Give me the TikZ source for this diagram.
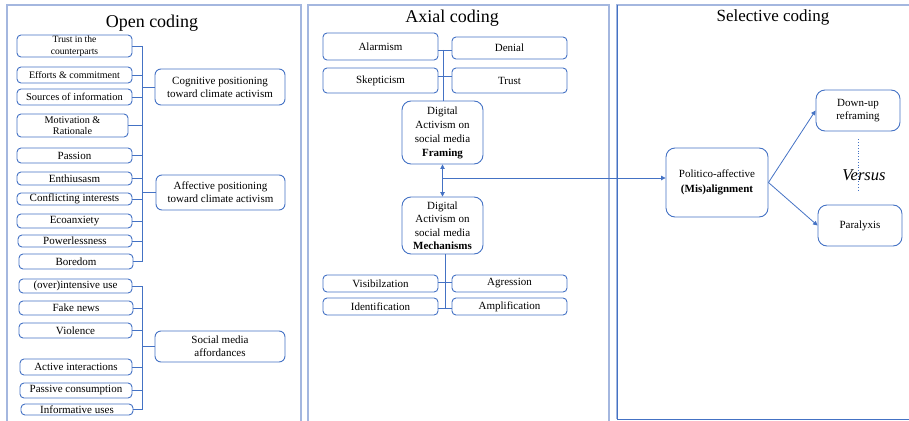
\documentclass[tikz,border=0pt]{standalone}
\usepackage{fontspec}
\setmainfont{Liberation Serif}
\usetikzlibrary{arrows.meta}
\definecolor{boxblue}{HTML}{4472C4}
\definecolor{panelblue}{HTML}{A4B7DF}
\begin{document}
\begin{tikzpicture}[x=1pt,y=-1pt,
  box/.style={draw=boxblue, line width=0.9pt, rounded corners=4pt, inner sep=0pt,
    align=center, font=\fontsize{11}{13}\selectfont},
  small/.style={font=\fontsize{10}{12}\selectfont},
  big/.style={rounded corners=9pt},
  link/.style={draw=boxblue, line width=0.8pt},
  tip/.style={-{Triangle[width=4.5pt,length=4.5pt]}},
  panel/.style={draw=panelblue, line width=1.6pt},
  title/.style={font=\fontsize{18}{20}\selectfont}]
\useasboundingbox (0,0) rectangle (909,420);

% three stages of the coding process
\draw[panel] (7,5) rectangle (301,440);
\draw[panel] (308,5) rectangle (609,440);
\draw[panel] (617,419) -- (617,5) -- (915,5);
\draw[draw=boxblue, line width=0.8pt] (617,5) -- (617,419) -- (915,419);

\node[title] (tOpen) at (152,23) {Open coding};
\node[title] (tAxial) at (452,18) {Axial coding};
\node[title, font=\fontsize{17}{19}\selectfont] (tSel) at (773,17) {Selective coding};

% ---------- Open coding ----------
\node[box, font=\fontsize{9.6}{11.5}\selectfont, minimum width=115pt, minimum height=22pt] (oTrust) at (74.5,46) {Trust in the\\counterparts};
\node[box, small, minimum width=115pt, minimum height=16pt] (oEffort) at (74.5,75) {Efforts \& commitment};
\node[box, font=\fontsize{10.5}{12}\selectfont, minimum width=115pt, minimum height=16pt] (oSource) at (74.5,97) {Sources of information};
\node[box, font=\fontsize{10.2}{11.5}\selectfont, minimum width=111pt, minimum height=23pt] (oMotiv) at (72.5,125.5) {Motivation \&\\Rationale};
\node[box, minimum width=115pt, minimum height=15pt] (oPassion) at (74.5,155.5) {Passion};
\node[box, minimum width=115pt, minimum height=13pt] (oEnth) at (74.5,178.5) {Enthiusasm};
\node[box, minimum width=115pt, minimum height=12pt] (oConf) at (74.5,199) {Conflicting interests};
\node[box, minimum width=115pt, minimum height=14pt] (oEco) at (74.5,221) {Ecoanxiety};
\node[box, minimum width=114pt, minimum height=12pt] (oPower) at (75,241) {Powerlessness};
\node[box, minimum width=114pt, minimum height=15pt] (oBored) at (76,261.5) {Boredom};

\node[box, minimum width=113pt, minimum height=14pt] (oOver) at (75.5,286) {(over)intensive use};
\node[box, minimum width=114pt, minimum height=14pt] (oFake) at (76,308) {Fake news};
\node[box, minimum width=113pt, minimum height=15pt] (oViol) at (75.5,330.5) {Violence};
\node[box, minimum width=112pt, minimum height=16pt] (oActive) at (76,367) {Active interactions};
\node[box, minimum width=112pt, minimum height=15pt] (oPassive) at (76,390.5) {Passive consumption};
\node[box, minimum width=112pt, minimum height=11pt] (oInfo) at (77,409.5) {Informative uses};

\node[box, rounded corners=6pt, minimum width=130pt, minimum height=36pt] (oCog) at (220,87) {Cognitive positioning\\toward climate activism};
\node[box, rounded corners=6pt, minimum width=129pt, minimum height=35pt] (oAff) at (220.5,192.5) {Affective positioning\\toward climate activism};
\node[box, rounded corners=6pt, minimum width=130pt, minimum height=31pt] (oSoc) at (220,346.5) {Social media\\affordances};

% first bracket: cognitive and affective codes
\coordinate (sp1) at (142,0);
\draw[link] (oTrust.east -| sp1) -- (oBored.east -| sp1);
\foreach \n in {oTrust,oEffort,oSource,oMotiv,oPassion,oEnth,oConf,oEco,oPower,oBored}
  \draw[link] (\n.east) -- (\n.east -| sp1);
\draw[link] (oCog.west -| sp1) -- (oCog.west);
\draw[link] (oAff.west -| sp1) -- (oAff.west);

% second bracket: social media codes
\draw[link] (oOver.east -| sp1) -- (oInfo.east -| sp1);
\foreach \n in {oOver,oFake,oViol,oActive,oPassive,oInfo}
  \draw[link] (\n.east) -- (\n.east -| sp1);
\draw[link] (oSoc.west -| sp1) -- (oSoc.west);

% ---------- Axial coding ----------
\node[box, minimum width=115pt, minimum height=27pt] (aAlarm) at (380.5,46.5) {Alarmism};
\node[box, minimum width=115pt, minimum height=22pt] (aDenial) at (509.5,48) {Denial};
\node[box, minimum width=115pt, minimum height=25pt] (aSkep) at (380.5,80.5) {Skepticism};
\node[box, minimum width=115pt, minimum height=25pt] (aTrust) at (509.5,80.5) {Trust};
\node[box, big, minimum width=81pt, minimum height=63pt, font=\fontsize{11}{14}\selectfont] (aFrame) at (442.5,132.5) {Digital\\Activism on\\social media\\\textbf{Framing}};
\node[box, big, minimum width=81pt, minimum height=57pt, font=\fontsize{11}{13.5}\selectfont] (aMech) at (442.5,225.5) {Digital\\Activism on\\social media\\\textbf{Mechanisms}};
\node[box, minimum width=115pt, minimum height=17pt] (aVis) at (380.5,283.5) {Visibilzation};
\node[box, minimum width=115pt, minimum height=17pt] (aAgr) at (509.5,283.5) {Agression};
\node[box, minimum width=115pt, minimum height=17pt] (aIdent) at (380.5,306.5) {Identification};
\node[box, minimum width=115pt, minimum height=17pt] (aAmp) at (509.5,306.5) {Amplification};

% framing codes hang from the framing box
\coordinate (fA) at (443,50);
\coordinate (fB) at (443,76);
\draw[link] (fA) -- (fA |- aFrame.north);
\draw[link] (aAlarm.east |- fA) -- (aDenial.west |- fA);
\draw[link] (aSkep.east |- fB) -- (aTrust.west |- fB);

% mechanism codes hang below the mechanisms box
\coordinate (mA) at (445,282);
\coordinate (mB) at (445,308);
\draw[link] (mA |- aMech.south) -- (mB);
\draw[link] (aVis.east |- mA) -- (aAgr.west |- mA);
\draw[link] (aIdent.east |- mB) -- (aAmp.west |- mB);

% link between framing and mechanisms
\draw[link, {Triangle[width=4.5pt,length=4.5pt]}-{Triangle[width=4.5pt,length=4.5pt]}] (aFrame.south) -- (aMech.north);

% ---------- Selective coding ----------
\node[box, big, minimum width=102pt, minimum height=69pt, font=\fontsize{11}{15.5}\selectfont] (sPol) at (717,182.5) {Politico-affective\\\textbf{(Mis)alignment}};
\node[box, big, minimum width=84pt, minimum height=41pt, font=\fontsize{11}{13.5}\selectfont] (sDown) at (858,110.5) {Down-up\\reframing};
\node[box, big, minimum width=84pt, minimum height=41pt] (sPara) at (860,225.5) {Paralyxis};

\coordinate (jn) at (442.5,178);
\draw[link, tip] (jn) -- (sPol.west |- jn);
\draw[link, tip] (sPol.east) -- (sDown.west);
\draw[link, tip] (sPol.east) -- (sPara.west);

\draw[link, dotted] ([yshift=-8pt]sDown.south) -- ([yshift=12pt]sPara.north -| sDown.south);
\node[font=\fontsize{16.5}{18}\selectfont\itshape] (sVs) at (864,175) {Versus};
\end{tikzpicture}
\end{document}
